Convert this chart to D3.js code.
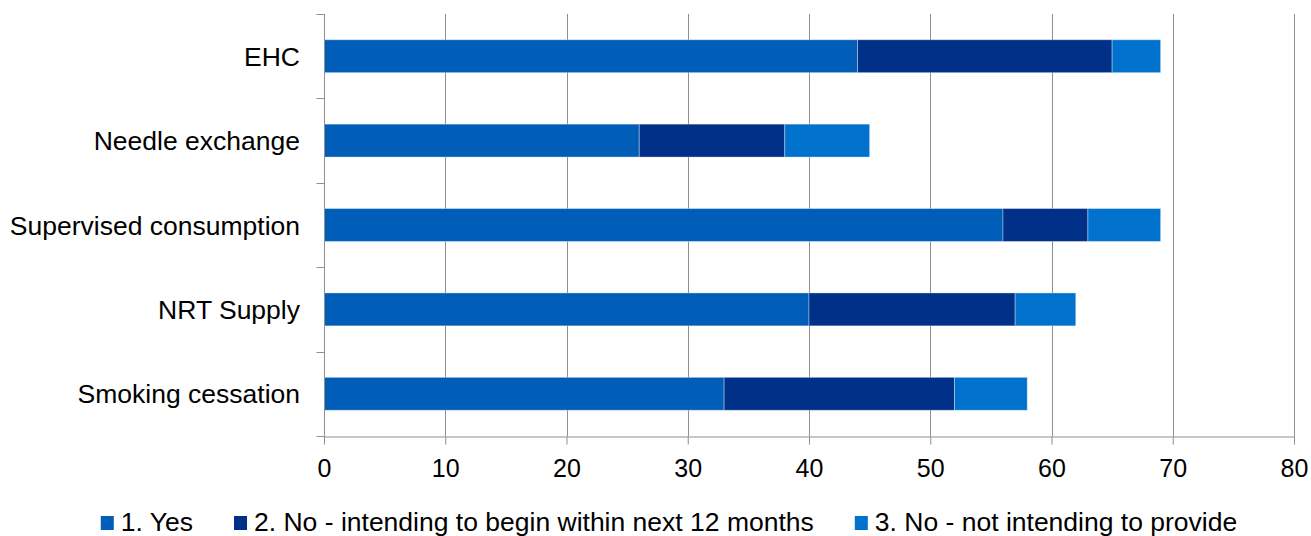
<!DOCTYPE html>
<html>
<head>
<meta charset="utf-8">
<script src="https://cdn.jsdelivr.net/npm/d3@7"></script>
<style>
  html, body { margin: 0; padding: 0; background: #fff; }
  svg { display: block; }
  text { font-family: "Liberation Sans", Arial, sans-serif; fill: #000; }
</style>
</head>
<body>
<svg id="chart" width="1311" height="536"></svg>
<script>
const categories = ["EHC", "Needle exchange", "Supervised consumption", "NRT Supply", "Smoking cessation"];
const seriesNames = ["1. Yes", "2. No - intending to begin within next 12 months", "3. No - not intending to provide"];
const yes = [44, 26, 56, 40, 33];
const intending = [21, 12, 7, 17, 19];
const notIntending = [4, 7, 6, 5, 6];
const xTicks = [0, 10, 20, 30, 40, 50, 60, 70, 80];

const colors = ["#005EB8", "#003087", "#0072CE"];
const svg = d3.select("#chart");

const rows = categories.map((c, i) => ({ cat: c, s0: yes[i], s1: intending[i], s2: notIntending[i] }));
const stack = d3.stack().keys(["s0", "s1", "s2"])(rows);

const x = d3.scaleLinear().domain([0, 80]).range([324, 1294]);
const y = d3.scaleBand().domain(categories).range([14, 436]).padding(0);
const barH = y.bandwidth() * 0.39;

// gridlines
svg.append("g").selectAll("line").data(xTicks.filter(t => t > 0)).join("line")
  .attr("x1", d => Math.round(x(d)) + 0.5).attr("x2", d => Math.round(x(d)) + 0.5)
  .attr("y1", 14).attr("y2", 436)
  .attr("stroke", "#8f8f8f").attr("stroke-width", 1);

// bars
svg.append("g").selectAll("g").data(stack).join("g")
  .attr("fill", (d, i) => colors[i])
  .selectAll("rect").data(d => d).join("rect")
  .attr("x", d => x(d[0]))
  .attr("width", d => x(d[1]) - x(d[0]))
  .attr("y", d => y(d.data.cat) + (y.bandwidth() - barH) / 2)
  .attr("height", barH)
  .attr("stroke", "rgba(255,255,255,0.35)")
  .attr("stroke-width", 1);

// x axis
const xAxis = svg.append("g").attr("transform", "translate(0,436.5)")
  .call(d3.axisBottom(x).tickValues(xTicks).tickSize(8).tickSizeOuter(0).tickFormat(d3.format("d")));
xAxis.select(".domain").attr("stroke", "#8f8f8f");
xAxis.selectAll(".tick line").attr("stroke", "#8f8f8f");
xAxis.selectAll(".tick text").attr("font-size", "25px").attr("font-family", "Liberation Sans, Arial, sans-serif")
  .attr("y", 0).attr("dy", 0).attr("transform", "translate(0,40.5)").attr("fill", "#000");

// y axis
const yAxis = svg.append("g").attr("transform", "translate(324.5,0)");
yAxis.append("line").attr("x1", 0).attr("x2", 0).attr("y1", 14).attr("y2", 436).attr("stroke", "#8f8f8f");
const bounds = categories.map(c => y(c)).concat([y.range()[1]]);
yAxis.selectAll("line.tk").data(bounds).join("line").attr("class", "tk")
  .attr("x1", -8).attr("x2", 0)
  .attr("y1", d => Math.round(d) + 0.5).attr("y2", d => Math.round(d) + 0.5)
  .attr("stroke", "#8f8f8f");
svg.append("g").selectAll("text").data(categories).join("text")
  .attr("x", 300)
  .attr("y", d => y(d) + y.bandwidth() / 2)
  .attr("dy", "0.36em")
  .attr("text-anchor", "end")
  .attr("font-size", "26.5px")
  .text(d => d);

// legend
const lg = svg.append("g");
const items = lg.selectAll("g").data(seriesNames).join("g");
items.append("rect").attr("x", 0).attr("y", 516).attr("width", 13).attr("height", 14)
  .attr("fill", (d, i) => colors[i]);
items.append("text").attr("x", 20).attr("y", 531).attr("font-size", "26.5px").text(d => d);
let cx = 0;
const widths = [];
items.each(function () { widths.push(20 + this.querySelector("text").getComputedTextLength()); });
const gap = 41;
const total = d3.sum(widths) + gap * (widths.length - 1);
cx = 669 - total / 2;
items.attr("transform", (d, i) => {
  const t = `translate(${cx},0)`;
  cx += widths[i] + gap;
  return t;
});
</script>
</body>
</html>
